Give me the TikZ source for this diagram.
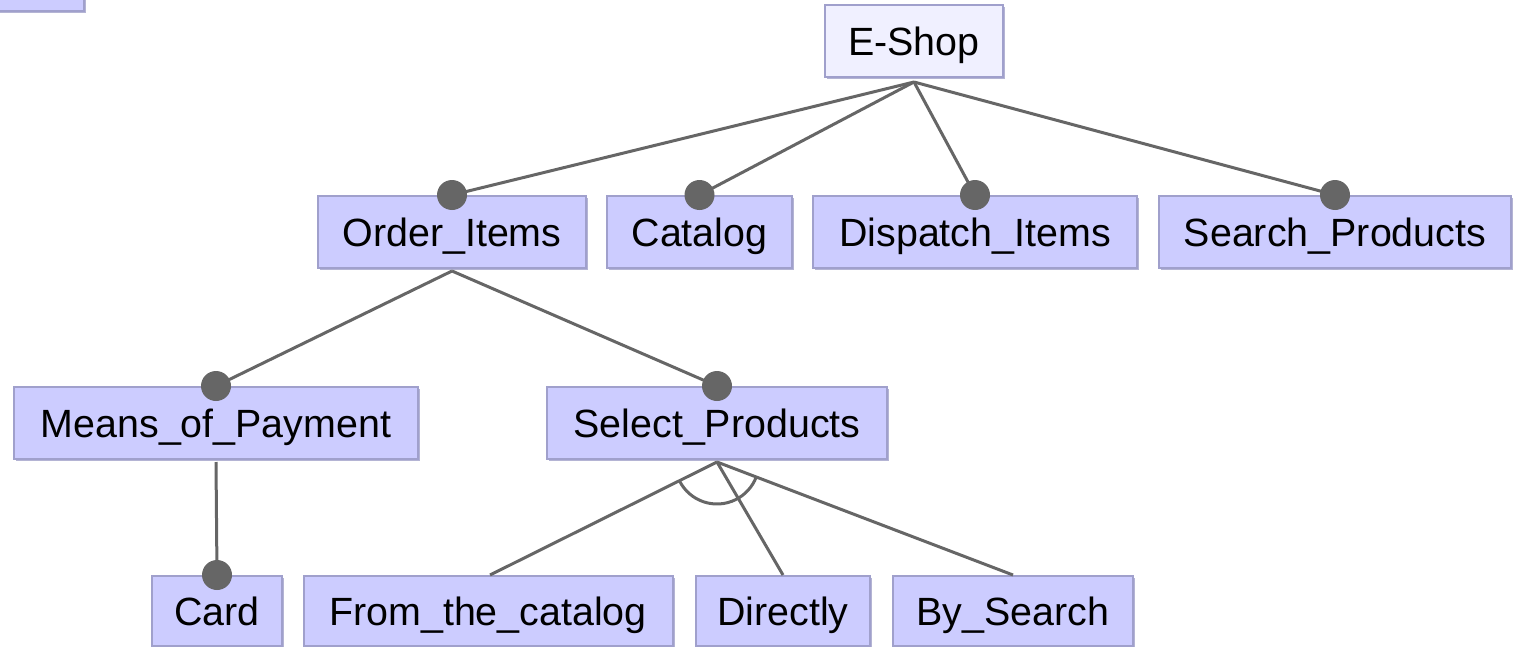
\documentclass[tikz,border=0pt]{standalone}
\usepackage{fontspec}
\setmainfont{Liberation Sans}
\usetikzlibrary{shadows}
\definecolor{featfill}{HTML}{CCCCFF}
\definecolor{rootfill}{HTML}{F0F0FF}
\definecolor{featborder}{HTML}{A0A0CC}
\definecolor{featshadow}{HTML}{B4B4D4}
\definecolor{linkcol}{HTML}{666666}
\tikzset{
  feature/.style={rectangle, fill=featfill, draw=featborder, line width=1pt,
    minimum height=36pt, inner sep=0pt, text height=14.1pt, text depth=0pt,
    font=\fontsize{19.7}{24}\selectfont,
    drop shadow={shadow xshift=1pt, shadow yshift=-1pt, fill=featshadow, opacity=1}},
  rootfeature/.style={feature, fill=rootfill},
  link/.style={draw=linkcol, line width=1.5pt},
  mandot/.style={fill=linkcol},
}
\begin{document}
\begin{tikzpicture}[x=0.5pt, y=-0.5pt]
\useasboundingbox (0,0) rectangle (1524,647);
\clip (0,0) rectangle (1524,647);

% corner of a box cut off by the frame
\node[feature, minimum width=60pt, anchor=south east] (corner) at (85,12) {};

% feature nodes
\node[rootfeature, minimum width=89pt]  (eshop)    at (914,41)   {E-Shop};
\node[feature, minimum width=134pt]     (order)    at (452,232)  {Order\_Items};
\node[feature, minimum width=92.5pt]    (catalog)  at (699.5,232){Catalog};
\node[feature, minimum width=162pt]     (dispatch) at (975,232)  {Dispatch\_Items};
\node[feature, minimum width=176pt]     (search)   at (1335,232) {Search\_Products};
\node[feature, minimum width=202pt]     (means)    at (216,423)  {Means\_of\_Payment};
\node[feature, minimum width=170pt]     (select)   at (717,423)  {Select\_Products};
\node[feature, minimum width=65pt, minimum height=35pt] (card) at (217,611) {Card};
\node[feature, minimum width=184.5pt, minimum height=35pt] (fromcat) at (488,611) {From\_the\_catalog};
\node[feature, minimum width=87pt, minimum height=35pt]    (directly) at (783,611) {Directly};
\node[feature, minimum width=120pt, minimum height=35pt]   (bysearch) at (1013,611) {By\_Search};

% connector start points just below the parents
\coordinate (eshopb)  at ([yshift=-2pt]eshop.south);
\coordinate (orderb)  at ([yshift=-1pt]order.south);
\coordinate (meansb)  at ([yshift=-1pt]means.south);
\coordinate (selectb) at ([yshift=-1pt]select.south);

% mandatory children
\foreach \p/\c in {eshopb/order, eshopb/catalog, eshopb/dispatch, eshopb/search,
                   orderb/means, orderb/select, meansb/card}{
  \draw[link] (\p) -- (\c.north);
  \fill[mandot] (\c.north) circle[radius=7.5pt];
}

% alternative group under Select_Products
\draw[link] (selectb) -- ([xshift=1pt]fromcat.north);
\draw[link] (selectb) -- (directly.north);
\draw[link] (selectb) -- (bysearch.north);
\draw[link] ([shift={(206.4:21pt)}]selectb) arc[start angle=206.4, end angle=339, radius=21pt];
\end{tikzpicture}
\end{document}
